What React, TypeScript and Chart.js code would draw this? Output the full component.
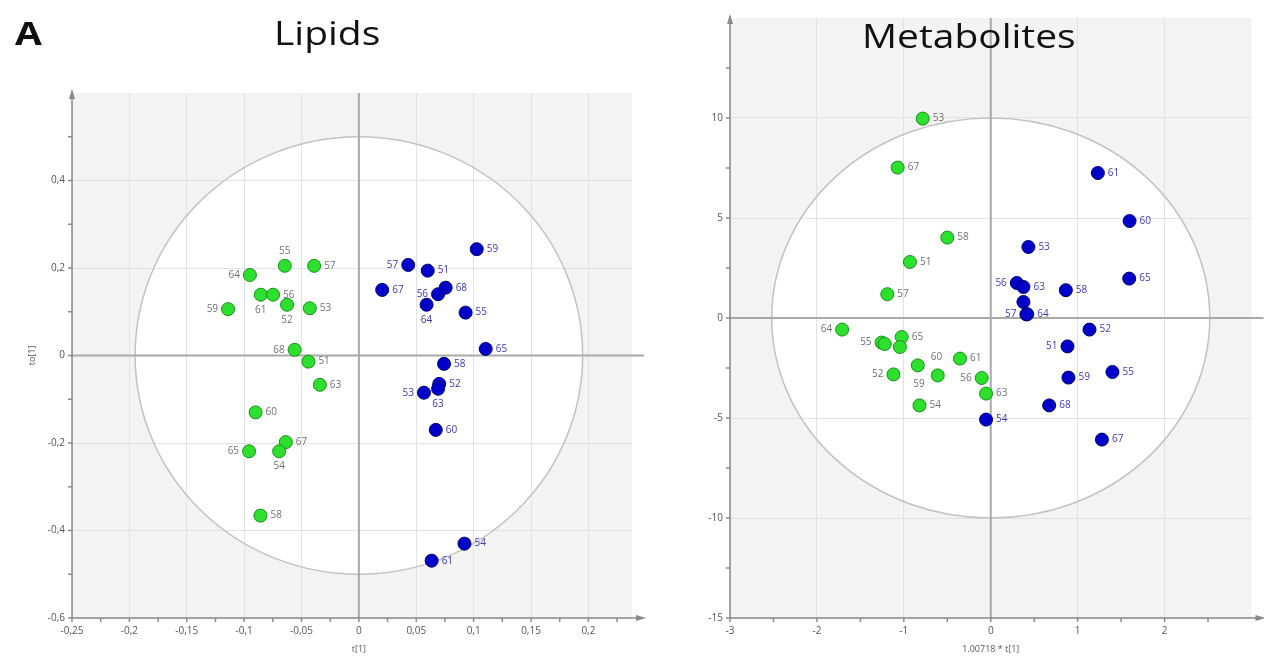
import React, { useEffect, useRef } from 'react';
import { Chart, registerables } from 'chart.js';
Chart.register(...registerables);

// ---------------- Lipids (left panel) ----------------
const lipidsGreenIds = ['64', '55', '57', '61', '56', '52', '53', '59', '68', '51', '63', '60', '67', '65', '54', '58'];
const lipidsGreenX = [-0.095, -0.0646, -0.039, -0.0855, -0.0748, -0.0626, -0.0428, -0.114, -0.056, -0.044, -0.034, -0.09, -0.0637, -0.0957, -0.0695, -0.0858];
const lipidsGreenY = [0.184, 0.205, 0.205, 0.139, 0.139, 0.116, 0.108, 0.106, 0.013, -0.014, -0.067, -0.13, -0.198, -0.219, -0.219, -0.366];
const lipidsGreenSide = ['l', 't', 'r', 'b', 'r', 'b', 'r', 'l', 'l', 'r', 'r', 'r', 'r', 'l', 'b', 'r'];

const lipidsBlueIds = ['59', '57', '51', '67', '68', '56', '64', '55', '65', '58', '52', '63', '53', '60', '54', '61'];
const lipidsBlueX = [0.1027, 0.043, 0.06, 0.0203, 0.0756, 0.069, 0.059, 0.093, 0.1105, 0.0742, 0.07, 0.069, 0.0567, 0.067, 0.092, 0.0634];
const lipidsBlueY = [0.243, 0.207, 0.194, 0.15, 0.155, 0.14, 0.116, 0.098, 0.015, -0.019, -0.065, -0.076, -0.085, -0.17, -0.43, -0.469];
const lipidsBlueSide = ['r', 'l', 'r', 'r', 'r', 'l', 'b', 'r', 'r', 'r', 'r', 'b', 'l', 'r', 'r', 'r'];

const lipidsXMajor = [-0.25, -0.2, -0.15, -0.1, -0.05, 0, 0.05, 0.1, 0.15, 0.2];
const lipidsXLabels = ['-0,25', '-0,2', '-0,15', '-0,1', '-0,05', '0', '0,05', '0,1', '0,15', '0,2'];
const lipidsXMinor = [-0.225, -0.175, -0.125, -0.075, -0.025, 0.025, 0.075, 0.125, 0.175, 0.225];
const lipidsYMajor = [-0.6, -0.4, -0.2, 0, 0.2, 0.4];
const lipidsYLabels = ['-0,6', '-0,4', '-0,2', '0', '0,2', '0,4'];
const lipidsYMinor = [-0.5, -0.3, -0.1, 0.1, 0.3, 0.5];
const lipidsEllipse = [0.195, 0.5];

// ---------------- Metabolites (right panel) ----------------
const metabGreenIds = ['53', '67', '58', '51', '57', '64', '55', '68', '65', '', '60', '61', '52', '59', '56', '63', '54'];
const metabGreenX = [-0.783, -1.071, -0.5, -0.93, -1.19, -1.71, -1.256, -1.22, -1.025, -1.045, -0.84, -0.354, -1.12, -0.61, -0.104, -0.054, -0.82];
const metabGreenY = [9.97, 7.52, 4.02, 2.8, 1.19, -0.58, -1.23, -1.3, -0.95, -1.45, -2.37, -2.03, -2.82, -2.87, -3.0, -3.78, -4.37];
const metabGreenSide = ['r', 'r', 'r', 'r', 'r', 'l', 'l', 'n', 'r', 'n', 'tr', 'r', 'l', 'bl', 'l', 'r', 'r'];

const metabBlueIds = ['61', '60', '53', '56', '63', '', '57', '64', '58', '65', '52', '51', '59', '55', '68', '67', '54'];
const metabBlueX = [1.232, 1.597, 0.433, 0.3, 0.376, 0.376, 0.41, 0.42, 0.864, 1.593, 1.136, 0.883, 0.894, 1.4, 0.672, 1.279, -0.054];
const metabBlueY = [7.25, 4.85, 3.55, 1.75, 1.55, 0.8, 0.18, 0.19, 1.39, 1.97, -0.58, -1.42, -2.98, -2.7, -4.37, -6.08, -5.08];
const metabBlueSide = ['r', 'r', 'r', 'l', 'r', 'n', 'l', 'r', 'r', 'r', 'r', 'l', 'r', 'r', 'r', 'r', 'r'];

const metabXMajor = [-3, -2, -1, 0, 1, 2];
const metabXLabels = ['-3', '-2', '-1', '0', '1', '2'];
const metabXMinor = [-2.5, -1.5, -0.5, 0.5, 1.5, 2.5];
const metabYMajor = [-15, -10, -5, 0, 5, 10];
const metabYLabels = ['-15', '-10', '-5', '0', '5', '10'];
const metabYMinor = [-12.5, -7.5, -2.5, 2.5, 7.5, 12.5];
const metabEllipse = [2.52, 10];

const GREEN_FILL = '#2ee02e';
const GREEN_BORDER = '#189018';
const BLUE_FILL = '#0000c8';
const BLUE_BORDER = '#000070';

type Group = { x: number[]; y: number[]; ids: string[]; sides: string[]; fill: string; border: string; labelColor: string };

type PanelCfg = {
  width: number;
  xMin: number; xMax: number; yMin: number; yMax: number;
  xMajor: number[]; xMinor: number[]; xLabels: string[];
  yMajor: number[]; yMinor: number[]; yLabels: string[];
  ellipse: number[];
  padTop: number; padRight: number; yWidth: number; xHeight: number;
  xTitle: string; yTitle: string;
  groups: Group[];
};

function makePlugin(cfg: PanelCfg) {
  return {
    id: 'decor',
    beforeDraw(chart: any) {
      const { ctx, chartArea: a } = chart;
      const xs = chart.scales.x, ys = chart.scales.y;
      ctx.save();
      ctx.fillStyle = '#ffffff';
      ctx.fillRect(0, 0, chart.width, chart.height);
      ctx.fillStyle = '#f3f3f3';
      ctx.fillRect(a.left, a.top, a.right - a.left, a.bottom - a.top);
      const cx = xs.getPixelForValue(0), cy = ys.getPixelForValue(0);
      const rx = Math.abs(xs.getPixelForValue(cfg.ellipse[0]) - cx);
      const ry = Math.abs(ys.getPixelForValue(cfg.ellipse[1]) - cy);
      ctx.beginPath();
      ctx.rect(a.left, a.top, a.right - a.left, a.bottom - a.top);
      ctx.clip();
      ctx.beginPath();
      ctx.ellipse(cx, cy, rx, ry, 0, 0, Math.PI * 2);
      ctx.fillStyle = '#ffffff';
      ctx.fill();
      ctx.restore();
    },
    beforeDatasetsDraw(chart: any) {
      const { ctx, chartArea: a } = chart;
      const xs = chart.scales.x, ys = chart.scales.y;
      const cx = xs.getPixelForValue(0), cy = ys.getPixelForValue(0);
      const rx = Math.abs(xs.getPixelForValue(cfg.ellipse[0]) - cx);
      const ry = Math.abs(ys.getPixelForValue(cfg.ellipse[1]) - cy);
      ctx.save();
      // ellipse outline
      ctx.beginPath();
      ctx.ellipse(cx, cy, rx, ry, 0, 0, Math.PI * 2);
      ctx.strokeStyle = '#c2c2c2';
      ctx.lineWidth = 1.5;
      ctx.stroke();
      // zero lines
      ctx.strokeStyle = '#a9a9a9';
      ctx.lineWidth = 2;
      ctx.beginPath();
      ctx.moveTo(cx, a.top);
      ctx.lineTo(cx, a.bottom);
      ctx.moveTo(a.left, cy);
      ctx.lineTo(a.right + 12, cy);
      ctx.stroke();
      // spines
      ctx.strokeStyle = '#8a8a8a';
      ctx.lineWidth = 1.5;
      ctx.beginPath();
      ctx.moveTo(a.left, a.bottom);
      ctx.lineTo(a.left, a.top - 2);
      ctx.moveTo(a.left, a.bottom);
      ctx.lineTo(a.right + 10, a.bottom);
      // ticks
      [...cfg.yMajor, ...cfg.yMinor].forEach((v) => {
        const p = ys.getPixelForValue(v);
        ctx.moveTo(a.left - 4, p);
        ctx.lineTo(a.left, p);
      });
      [...cfg.xMajor, ...cfg.xMinor].forEach((v) => {
        const p = xs.getPixelForValue(v);
        ctx.moveTo(p, a.bottom);
        ctx.lineTo(p, a.bottom + 4);
      });
      ctx.stroke();
      // arrowheads
      ctx.fillStyle = '#8a8a8a';
      ctx.beginPath();
      ctx.moveTo(a.left, a.top - 4);
      ctx.lineTo(a.left - 3, a.top + 6);
      ctx.lineTo(a.left + 3, a.top + 6);
      ctx.closePath();
      ctx.fill();
      ctx.beginPath();
      ctx.moveTo(a.right + 14, a.bottom);
      ctx.lineTo(a.right + 4, a.bottom - 3);
      ctx.lineTo(a.right + 4, a.bottom + 3);
      ctx.closePath();
      ctx.fill();
      // axis titles
      ctx.fillStyle = '#555555';
      ctx.font = '9px "Open Sans"';
      ctx.textAlign = 'center';
      ctx.textBaseline = 'middle';
      ctx.fillText(cfg.xTitle, cx, a.bottom + 31);
      if (cfg.yTitle) {
        ctx.save();
        ctx.translate(a.left - 40, cy);
        ctx.rotate(-Math.PI / 2);
        ctx.fillText(cfg.yTitle, 0, 0);
        ctx.restore();
      }
      ctx.restore();
    },
    afterDatasetsDraw(chart: any) {
      const { ctx } = chart;
      ctx.save();
      ctx.font = '10px "Open Sans"';
      cfg.groups.forEach((g, gi) => {
        const meta = chart.getDatasetMeta(gi);
        ctx.fillStyle = g.labelColor;
        g.ids.forEach((id, i) => {
          const side = g.sides[i];
          if (!id || side === 'n') return;
          const el = meta.data[i];
          const px = el.x, py = el.y;
          let tx = px, ty = py;
          ctx.textBaseline = 'middle';
          if (side === 'r') { ctx.textAlign = 'left'; tx = px + 10; }
          else if (side === 'l') { ctx.textAlign = 'right'; tx = px - 10; }
          else if (side === 't') { ctx.textAlign = 'center'; ty = py - 15; }
          else if (side === 'b') { ctx.textAlign = 'center'; ty = py + 15; }
          else if (side === 'tr') { ctx.textAlign = 'left'; tx = px + 13; ty = py - 8; }
          else if (side === 'bl') { ctx.textAlign = 'right'; tx = px - 13; ty = py + 9; }
          ctx.fillText(id, tx, ty);
        });
      });
      ctx.restore();
    },
  };
}

function Panel({ cfg, left }: { cfg: PanelCfg; left: number }) {
  const ref = useRef<HTMLCanvasElement | null>(null);
  useEffect(() => {
    if (!ref.current) return;
    const chart = new Chart(ref.current, {
      type: 'scatter',
      data: {
        datasets: cfg.groups.map((g) => ({
          data: g.x.map((v, i) => ({ x: v, y: g.y[i] })),
          backgroundColor: g.fill,
          borderColor: g.border,
          borderWidth: 1,
          pointRadius: 6.5,
          pointHoverRadius: 6.5,
        })),
      },
      options: {
        responsive: false,
        animation: false,
        devicePixelRatio: 1,
        layout: { padding: { top: cfg.padTop, right: cfg.padRight, left: 0, bottom: 0 } },
        plugins: { legend: { display: false }, tooltip: { enabled: false }, title: { display: false } },
        scales: {
          x: {
            type: 'linear',
            min: cfg.xMin,
            max: cfg.xMax,
            afterBuildTicks: (s: any) => { s.ticks = cfg.xMajor.map((v) => ({ value: v })); },
            afterFit: (s: any) => { s.height = cfg.xHeight; },
            ticks: {
              autoSkip: false,
              maxRotation: 0,
              padding: 7,
              color: '#555555',
              font: { size: 10, family: '"Open Sans"' },
              callback: (_v: any, i: number) => cfg.xLabels[i],
            },
            grid: { color: '#e2e2e2', lineWidth: 1, drawTicks: false },
            border: { display: false },
          },
          y: {
            type: 'linear',
            min: cfg.yMin,
            max: cfg.yMax,
            afterBuildTicks: (s: any) => { s.ticks = cfg.yMajor.map((v) => ({ value: v })); },
            afterFit: (s: any) => { s.width = cfg.yWidth; },
            ticks: {
              autoSkip: false,
              padding: 7,
              color: '#555555',
              font: { size: 10, family: '"Open Sans"' },
              callback: (_v: any, i: number) => cfg.yLabels[i],
            },
            grid: { color: '#e2e2e2', lineWidth: 1, drawTicks: false },
            border: { display: false },
          },
        },
      },
      plugins: [makePlugin(cfg)],
    } as any);
    return () => chart.destroy();
  }, []);
  return (
    <canvas
      ref={ref}
      width={cfg.width}
      height={656}
      style={{ position: 'absolute', left, top: 0, width: cfg.width, height: 656 }}
    />
  );
}

const lipidsCfg: PanelCfg = {
  width: 660,
  xMin: -0.25, xMax: 0.238, yMin: -0.6, yMax: 0.6,
  xMajor: lipidsXMajor, xMinor: lipidsXMinor, xLabels: lipidsXLabels,
  yMajor: lipidsYMajor, yMinor: lipidsYMinor, yLabels: lipidsYLabels,
  ellipse: lipidsEllipse,
  padTop: 93, padRight: 28, yWidth: 72, xHeight: 38,
  xTitle: 't[1]', yTitle: 'to[1]',
  groups: [
    { x: lipidsGreenX, y: lipidsGreenY, ids: lipidsGreenIds, sides: lipidsGreenSide, fill: GREEN_FILL, border: GREEN_BORDER, labelColor: '#707070' },
    { x: lipidsBlueX, y: lipidsBlueY, ids: lipidsBlueIds, sides: lipidsBlueSide, fill: BLUE_FILL, border: BLUE_BORDER, labelColor: '#3a3ab4' },
  ],
};

const metabCfg: PanelCfg = {
  width: 604,
  xMin: -3, xMax: 3, yMin: -15, yMax: 15,
  xMajor: metabXMajor, xMinor: metabXMinor, xLabels: metabXLabels,
  yMajor: metabYMajor, yMinor: metabYMinor, yLabels: metabYLabels,
  ellipse: metabEllipse,
  padTop: 18, padRight: 12.5, yWidth: 70, xHeight: 38,
  xTitle: '1.00718 * t[1]', yTitle: '',
  groups: [
    { x: metabGreenX, y: metabGreenY, ids: metabGreenIds, sides: metabGreenSide, fill: GREEN_FILL, border: GREEN_BORDER, labelColor: '#707070' },
    { x: metabBlueX, y: metabBlueY, ids: metabBlueIds, sides: metabBlueSide, fill: BLUE_FILL, border: BLUE_BORDER, labelColor: '#3a3ab4' },
  ],
};

const titleStyle: React.CSSProperties = {
  position: 'absolute',
  fontFamily: '"Open Sans", sans-serif',
  fontSize: 33,
  lineHeight: '33px',
  color: '#111',
  whiteSpace: 'nowrap',
  transformOrigin: 'left top',
  transform: 'scaleX(1.18)',
};

export default function App() {
  return (
    <div style={{ position: 'absolute', left: 0, top: 0, width: 1264, height: 656, background: '#fff', overflow: 'hidden' }}>
      <Panel cfg={lipidsCfg} left={0} />
      <Panel cfg={metabCfg} left={660} />
      <div style={{ ...titleStyle, left: 15, top: 16, fontWeight: 700 }}>A</div>
      <div style={{ ...titleStyle, left: 274, top: 16 }}>Lipids</div>
      <div style={{ ...titleStyle, left: 862, top: 19 }}>Metabolites</div>
    </div>
  );
}
